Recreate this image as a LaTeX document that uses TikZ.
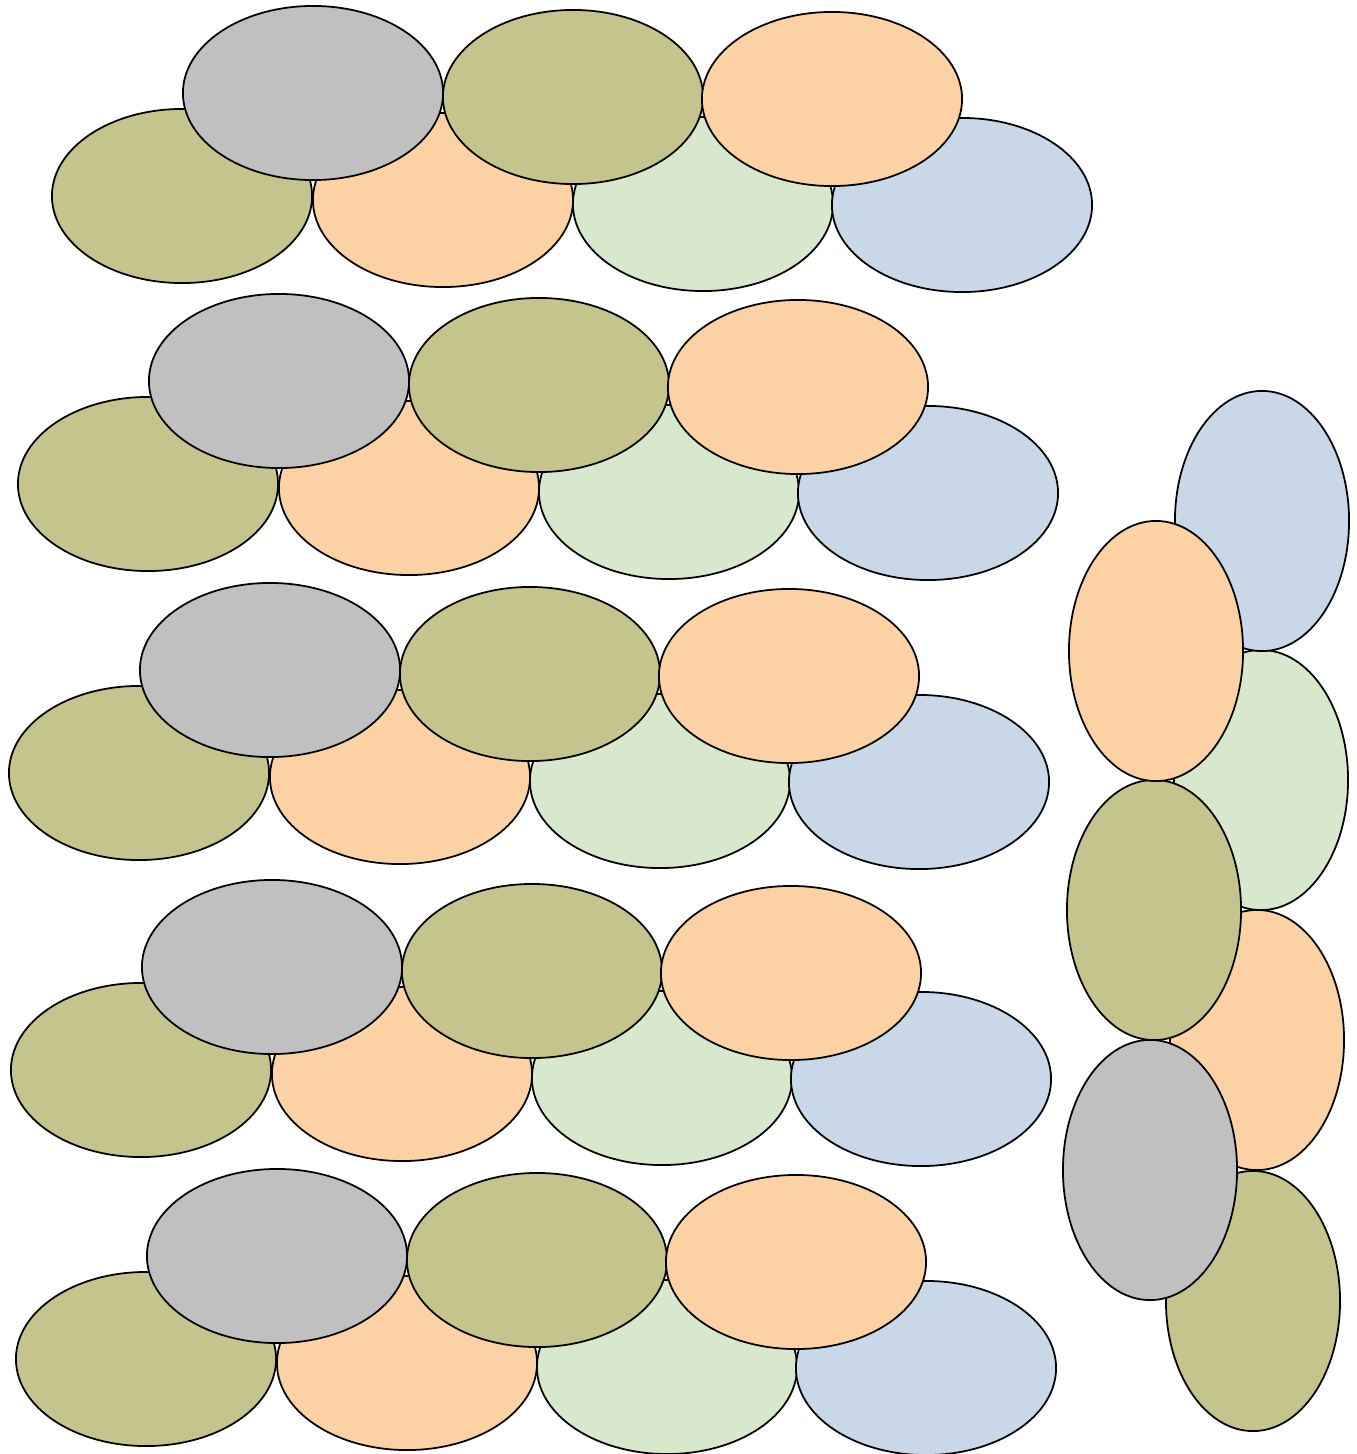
\documentclass[tikz,border=0pt]{standalone}
\usetikzlibrary{positioning}
\definecolor{sage}{RGB}{196,196,140}
\definecolor{stone}{RGB}{192,192,192}
\definecolor{apricot}{RGB}{252,210,164}
\definecolor{mint}{RGB}{216,232,204}
\definecolor{sky}{RGB}{200,216,232}
\begin{document}
\begin{tikzpicture}[
    x=0.01cm, y=-0.01cm,
    egg/.style={draw=black, fill=#1, line width=0.5pt,
                x radius=1.3cm, y radius=0.87cm},
    eggrow/.pic={
        % lower row
        \path[egg=sage]    (0,0)     ellipse [];
        \path[egg=apricot] (261,4)   ellipse [];
        \path[egg=mint]    (521,8)   ellipse [];
        \path[egg=sky]     (780,9)   ellipse [];
        % upper row
        \path[egg=stone]   (131,-103) ellipse [];
        \path[egg=sage]    (391,-99)  ellipse [];
        \path[egg=apricot] (650,-97)  ellipse [];
    },
]
\useasboundingbox (0,0) rectangle (1356,1454);

% ══════════════════════════════════════
%  LEFT: five stacked rows
% ══════════════════════════════════════
\pic at (182,196)  {eggrow};
\pic at (148,484)  {eggrow};
\pic at (139,773)  {eggrow};
\pic at (141,1070) {eggrow};
\pic at (146,1359) {eggrow};

% ══════════════════════════════════════
%  RIGHT: same row, turned upright
% ══════════════════════════════════════
\pic[rotate=90] at (1253,1301) {eggrow};

\end{tikzpicture}
\end{document}
